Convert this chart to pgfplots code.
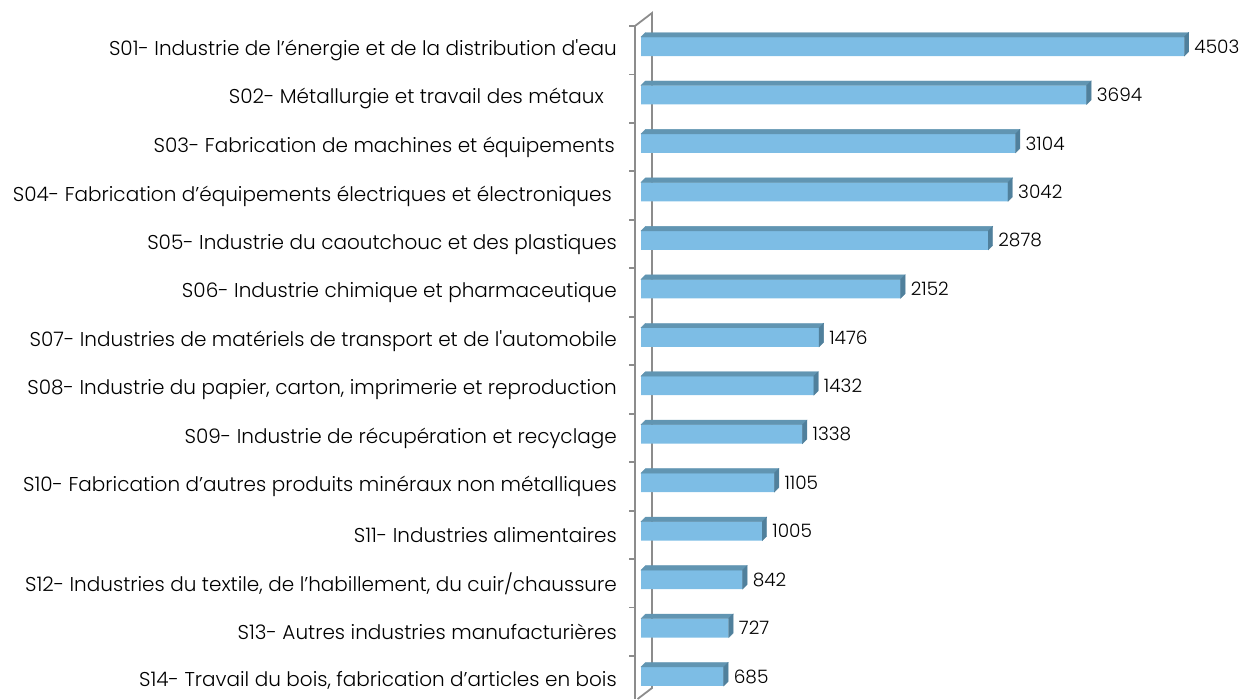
\documentclass[border=0pt]{standalone}
\usepackage{pgfplots}
\pgfplotsset{compat=1.18}
\usepackage{pgfplotstable}
\usepackage{fontspec}
\setmainfont{Poppins Light}
\definecolor{frontc}{HTML}{7DBDE5}
\definecolor{topc}{HTML}{6195B2}
\definecolor{sidec}{HTML}{50809C}
\definecolor{axc}{HTML}{8C8C8C}
\pgfdeclareplotmark{nothing}{}
\pgfplotstableread{
k v
0 4503
1 3694
2 3104
3 3042
4 2878
5 2152
6 1476
7 1432
8 1338
9 1105
10 1005
11 842
12 727
13 685
}\data
\begin{document}
\begin{tikzpicture}
\useasboundingbox (0,0) rectangle (1247pt,-699pt);
% back wall line (behind bars)
\draw[axc, line width=1.8pt] (635pt,-26pt) -- (652pt,-13pt) -- (652pt,-688pt) -- (637.6pt,-699pt);
\begin{axis}[
  at={(641pt,-46.5pt)}, anchor=origin,
  x=0.12063pt, y=48.46pt, y dir=reverse,
  xmin=0, xmax=4700, ymin=-0.8, ymax=13.5,
  clip=false,
  axis line style={draw=none},
  xtick=\empty,
  ytick={0,...,13},
  major tick length=0pt,
  yticklabels={
    {S01- Industrie de l’énergie et de la distribution d\textquotesingle eau},
    {S02- Métallurgie et travail des métaux\hspace*{13pt}},
    {S03- Fabrication de machines et équipements\hspace*{2pt}},
    {S04- Fabrication d’équipements électriques et électroniques\hspace*{5pt}},
    {S05- Industrie du caoutchouc et des plastiques},
    {S06- Industrie chimique et pharmaceutique},
    {S07- Industries de matériels de transport et de l\textquotesingle automobile},
    {S08- Industrie du papier, carton, imprimerie et reproduction},
    {S09- Industrie de récupération et recyclage},
    {S10- Fabrication d’autres produits minéraux non métalliques},
    {S11- Industries alimentaires},
    {S12- Industries du textile, de l’habillement, du cuir/chaussure},
    {S13- Autres industries manufacturières},
    {S14- Travail du bois, fabrication d’articles en bois}},
  yticklabel style={anchor=east, inner sep=0pt, xshift=-24pt, yshift=-4pt,
    font=\fontsize{20}{22}\selectfont, text=black},
]
\addplot[xbar, bar width=19pt, fill=frontc, draw=none,
  nodes near coords, point meta=explicit symbolic,
  every node near coord/.append style={anchor=west, inner sep=0pt, xshift=10pt,
    font=\fontsize{18.5}{22}\selectfont, text=black}]
  table[x=v, y=k, meta=v]{\data};
\addplot[scatter, only marks, mark=nothing,
  visualization depends on={\thisrow{v} \as \val},
  scatter/@pre marker code/.code={%
    \pgfmathsetmacro\barlen{\val*0.12063}%
    \pgfmathsetmacro\barlenb{4.5-\barlen}%
    \fill[topc] (-\barlen pt,9.5pt) -- (0pt,9.5pt) -- (4.5pt,14pt) -- (\barlenb pt,14pt) -- cycle;
    \fill[sidec] (0pt,-9.5pt) -- (4.5pt,-5pt) -- (4.5pt,14pt) -- (0pt,9.5pt) -- cycle;
  },
  scatter/@post marker code/.code={}]
  table[x=v, y=k]{\data};
\end{axis}
% front axis line and ticks
\draw[axc, line width=1.8pt] (635pt,-26pt) -- (635pt,-699pt);
\foreach \k in {0,...,13} {
  \draw[axc, line width=1.8pt] (629pt,{-26pt-\k*48.46pt}) -- (635.9pt,{-26pt-\k*48.46pt});
}
\end{tikzpicture}
\end{document}
